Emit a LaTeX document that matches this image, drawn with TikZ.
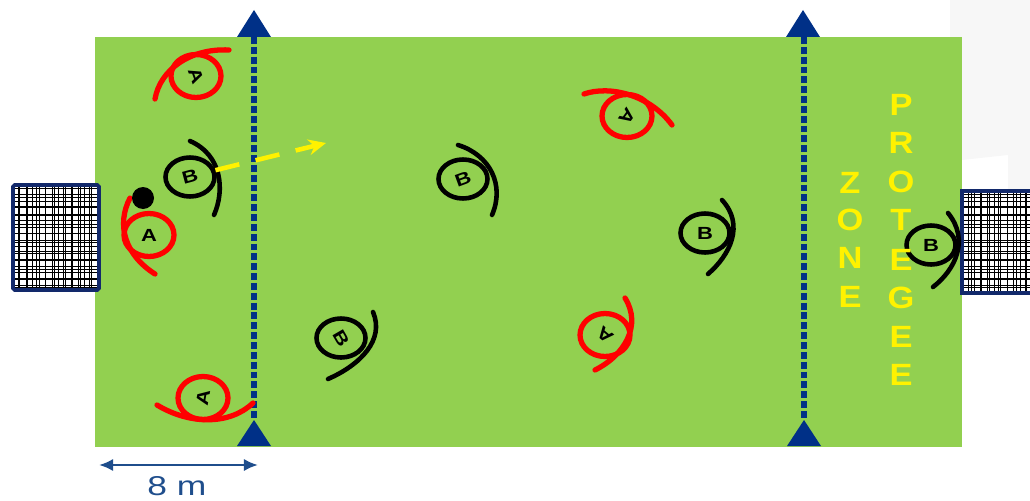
\documentclass[tikz,border=0pt]{standalone}
\usepackage{fontspec}
\setmainfont{Liberation Sans}
\usetikzlibrary{arrows.meta,calc,positioning,shapes.geometric}
\definecolor{pitchgreen}{HTML}{92D050}
\definecolor{linkblue}{HTML}{003087}
\definecolor{goalblue}{HTML}{12296B}
\definecolor{dimblue}{HTML}{1F4E8C}
\newcommand{\plabel}[2]{\rotatebox[origin=c]{#1}{\scalebox{1.25}[1]{\textbf{#2}}}}
\tikzset{
  playerA/.style={ellipse,draw=red,line width=3pt,minimum width=1cm,minimum height=0.86cm,inner sep=0pt,font=\fontsize{10}{10}\selectfont},
  playerB/.style={ellipse,draw=black,line width=2.6pt,minimum width=0.98cm,minimum height=0.78cm,inner sep=0pt,font=\fontsize{10}{10}\selectfont},
  arcA/.style={draw=red,line width=3pt,line cap=round},
  arcB/.style={draw=black,line width=2.6pt,line cap=round},
  zoneline/.style={draw=linkblue,line width=3.8pt,dash pattern=on 3.9pt off 1.7pt},
  flag/.style={fill=linkblue},
  zoneletter/.style={text=yellow,font=\fontsize{17.5}{18}\selectfont\bfseries,transform shape,xscale=1.12},
  goalnet/.style={draw=black,line width=0.55pt}
}
\begin{document}
\begin{tikzpicture}[x=0.02cm,y=-0.02cm]
  \useasboundingbox (0,0) rectangle (1030,500);
  % faint background corner
  \fill[black!3] (950,0) -- (1030,0) -- (1030,189) -- (1008,189) -- (1008,155) -- (962,160) -- (950,160) -- cycle;
  % pitch
  \fill[pitchgreen] (95,37) rectangle (962,447);
  % goals
  \fill[white] (12,184) rectangle (99,290);
  \draw[goalnet,step=0.18cm] (12,184) grid (99,290);
  \draw[goalnet,step=0.13cm] (12,184) grid (99,290);
  \draw[draw=goalblue,line width=2.2pt,rounded corners=1pt] (13,185) rectangle (99,290);
  \fill[white] (961,190) rectangle (1030,294);
  \draw[goalnet,step=0.18cm] (961,190) grid (1030,294);
  \draw[goalnet,step=0.13cm] (961,190) grid (1030,294);
  \draw[draw=goalblue,line width=2.2pt] (1034,191) -- (962,191) -- (962,293) -- (1034,293);
  % zone lines
  \draw[zoneline] (254,37) -- (254,420);
  \draw[zoneline] (804,37) -- (804,420);
  \fill[flag] (254,10) -- (271,37) -- (237,37) -- cycle;
  \fill[flag] (803,10) -- (820,37) -- (786,37) -- cycle;
  \fill[flag] (254,420) -- (271,446) -- (237,446) -- cycle;
  \fill[flag] (804,420) -- (821,446) -- (787,446) -- cycle;
  % players A
  \node[playerA] (a1) at (196,76) {\plabel{-70}{A}};
  \node[playerA] (a2) at (149,235) {\plabel{0}{A}};
  \node[playerA] (a3) at (203,398) {\plabel{80}{A}};
  \node[playerA] (a4) at (627,116) {\plabel{-126}{A}};
  \node[playerA] (a5) at (605,335) {\plabel{140}{A}};
  \draw[arcA] (155,99) .. controls (160,70) and (190,48) .. (229,50);
  \draw[arcA] (130,198) .. controls (116,225) and (125,255) .. (155,274);
  \draw[arcA] (157,405) .. controls (190,425) and (230,425) .. (253,403);
  \draw[arcA] (584,94) .. controls (610,85) and (650,95) .. (672,125);
  \draw[arcA] (625,298) .. controls (642,325) and (625,355) .. (595,370);
  % players B
  \node[playerB] (b1) at (190,177) {\plabel{15}{B}};
  \node[playerB] (b2) at (463,179) {\plabel{20}{B}};
  \node[playerB] (b3) at (341,338) {\plabel{-60}{B}};
  \node[playerB] (b4) at (705,233) {\plabel{0}{B}};
  \node[playerB] (b5) at (931,245) {\plabel{0}{B}};
  \draw[arcB] (190,141) .. controls (222,155) and (225,190) .. (214,215);
  \draw[arcB] (458,145) .. controls (490,155) and (505,185) .. (492,215);
  \draw[arcB] (373,312) .. controls (385,340) and (360,365) .. (328,379);
  \draw[arcB] (722,200) .. controls (745,225) and (730,255) .. (708,274);
  \draw[arcB] (948,213) .. controls (970,240) and (955,270) .. (933,287);
  % ball
  \fill[black] (143,198) circle (11);
  % pass
  \coordinate (passend) at (326,143);
  \draw[draw=yellow,line width=2.6pt,dash pattern=on 14pt off 9.5pt,-{Stealth[length=10pt,width=9pt]}] (b1.15) -- (passend);
  % zone text
  \node[zoneletter] (z1) at (850,183) {Z};
  \node[zoneletter] (z2) at (850,220) {O};
  \node[zoneletter] (z3) at (850,258) {N};
  \node[zoneletter] (z4) at (850,297) {E};
  \node[zoneletter] (p1) at (901,105) {P};
  \node[zoneletter] (p2) at (901,143) {R};
  \node[zoneletter] (p3) at (901,182) {O};
  \node[zoneletter] (p4) at (901,220) {T};
  \node[zoneletter] (p5) at (901,260) {E};
  \node[zoneletter] (p6) at (901,298) {G};
  \node[zoneletter] (p7) at (901,337) {E};
  \node[zoneletter] (p8) at (901,375) {E};
  % length
  \coordinate (dimleft) at (99,465);
  \coordinate (dimright) at (258,465);
  \draw[draw=dimblue,line width=1.5pt,{Latex[length=8pt,width=7pt]}-{Latex[length=8pt,width=7pt]}] (dimleft) -- (dimright);
  \node[text=dimblue,font=\fontsize{15.5}{16}\selectfont,inner sep=0pt,transform shape,xscale=1.3] (dimlabel) at (177,486) {8 m};
\end{tikzpicture}
\end{document}
